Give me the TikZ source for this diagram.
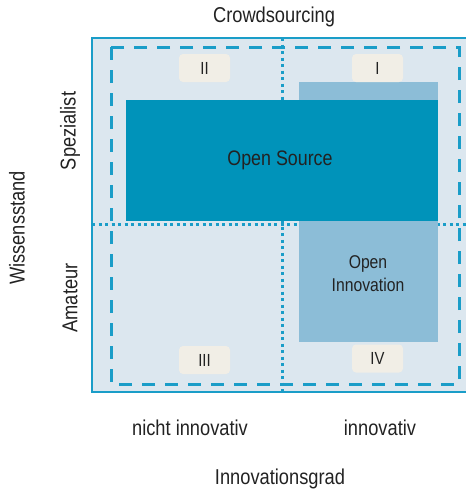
\documentclass[tikz,border=0pt]{standalone}
\usepackage{fontspec}
\setmainfont[FakeStretch=0.85]{Liberation Sans}
\definecolor{rahmen}{HTML}{1A9DC8}
\definecolor{grund}{HTML}{DCE7EF}
\definecolor{dunkel}{HTML}{0093BA}
\definecolor{hell}{HTML}{8CBDD7}
\definecolor{beige}{HTML}{F1EEE6}
\definecolor{schrift}{HTML}{222222}
\begin{document}
\begin{tikzpicture}[x=1pt,y=-1pt,
    achse/.style={text=schrift,font=\fontsize{21.5}{23}\selectfont},
    feld/.style={text=schrift,font=\fontsize{18.5}{23}\selectfont,align=center},
    nummer/.style={fill=beige,rounded corners=4pt,minimum width=51pt,minimum height=28pt,inner sep=0pt,text=schrift,font=\fontsize{17.5}{18}\selectfont}]
\useasboundingbox (0,0) rectangle (466,491);
\clip (0,0) rectangle (466,491);
% Grundflaeche
\draw[rahmen,fill=grund,line width=1.5pt] (92,38) rectangle (480,392);
% Quadranten
\draw[rahmen,line width=3pt,dash pattern=on 3pt off 3.5pt] (282,38) -- (282,392);
\draw[rahmen,line width=3pt,dash pattern=on 3pt off 3.5pt] (92,224) -- (466,224);
\fill[hell] (299,82) rectangle (438,342);
\fill[dunkel] (126,100) rectangle (438,221);
\draw[rahmen,line width=3pt,dash pattern=on 13pt off 10pt] (111,47) rectangle (459,384);
% Felder
\node[feld,font=\fontsize{21}{23}\selectfont] (os) at (280,160) {Open Source};
\node[feld] (oi) at (368,274) {Open\\Innovation};
\node[nummer] (n1) at (377.5,68) {I};
\node[nummer] (n2) at (204.5,68) {II};
\node[nummer] (n3) at (204.5,360) {III};
\node[nummer] (n4) at (377.5,358.5) {IV};
% Achsen
\node[achse] (crowd) at (274,17) {Crowdsourcing};
\node[achse,rotate=90] (spez) at (70,131) {Spezialist};
\node[achse,rotate=90] (amat) at (70,298) {Amateur};
\node[achse,rotate=90] (wissen) at (17,228) {Wissensstand};
\node[achse] (nicht) at (190,428) {nicht innovativ};
\node[achse] (inno) at (380,428) {innovativ};
\node[achse] (grad) at (280,479) {Innovationsgrad};
\end{tikzpicture}
\end{document}
